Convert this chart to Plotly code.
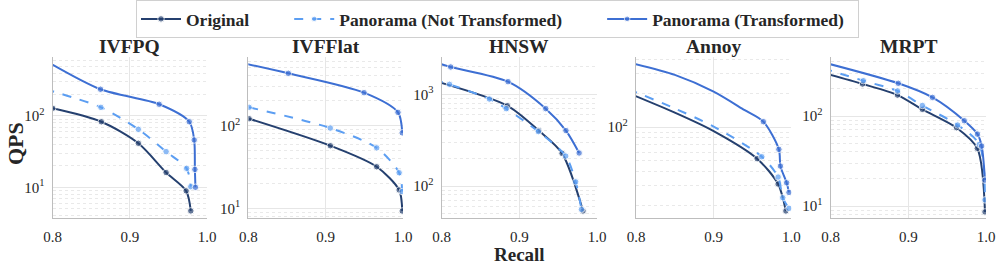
import plotly.graph_objects as go

# ---------------- data ----------------
METHODS = ["IVFPQ", "IVFFlat", "HNSW", "Annoy", "MRPT"]
SERIES = ["Original", "Panorama (Not Transformed)", "Panorama (Transformed)"]

# IVFPQ
IVFPQ_ORIG_X = [0.800, 0.863, 0.911, 0.947, 0.973, 0.979]
IVFPQ_ORIG_Y = [128, 83, 41.4, 16.1, 8.9, 4.66]
IVFPQ_ORIG_M = [1, 1, 1, 1, 1, 1]
IVFPQ_NT_X = [0.790, 0.8625, 0.911, 0.947, 0.9736, 0.979]
IVFPQ_NT_Y = [238, 132, 65, 31.6, 18.4, 10.2]
IVFPQ_NT_M = [0, 1, 1, 1, 1, 1]
IVFPQ_TR_X = [0.790, 0.862, 0.938, 0.977, 0.9834, 0.9843, 0.985]
IVFPQ_TR_Y = [603, 237, 146, 83, 46, 17.8, 10]
IVFPQ_TR_M = [0, 1, 1, 1, 1, 1, 1]

# IVFFlat
IVFFLAT_ORIG_X = [0.801, 0.906, 0.966, 0.995, 0.999]
IVFFLAT_ORIG_Y = [121.5, 57.3, 31.9, 16.7, 9.3]
IVFFLAT_ORIG_M = [1, 1, 1, 1, 1]
IVFFLAT_NT_X = [0.801, 0.906, 0.966, 0.995, 0.999]
IVFFLAT_NT_Y = [167, 93.7, 54, 27, 16]
IVFFLAT_NT_M = [1, 1, 1, 1, 1]
IVFFLAT_TR_X = [0.790, 0.8517, 0.9496, 0.9935, 0.999]
IVFFLAT_TR_Y = [580, 430, 251, 145, 82]
IVFFLAT_TR_M = [0, 1, 1, 1, 1]

# HNSW
HNSW_ORIG_X = [0.790, 0.8845, 0.925, 0.955, 0.982]
HNSW_ORIG_Y = [1410, 752, 402, 227, 53.4]
HNSW_ORIG_M = [0, 1, 1, 1, 1]
HNSW_NT_X = [0.790, 0.810, 0.8614, 0.883, 0.9245, 0.9597, 0.9725, 0.980]
HNSW_NT_Y = [1440, 1285, 889, 698, 392, 212, 111, 55.6]
HNSW_NT_M = [0, 1, 1, 1, 1, 1, 1, 1]
HNSW_TR_X = [0.790, 0.8116, 0.8854, 0.934, 0.960, 0.977]
HNSW_TR_Y = [2250, 1987, 1374, 698, 402, 229]
HNSW_TR_M = [0, 1, 1, 1, 1, 1]

# Annoy
ANNOY_ORIG_X = [0.790, 0.850, 0.900, 0.956, 0.983, 0.993]
ANNOY_ORIG_Y = [200, 134, 92, 52.4, 31.2, 18]
ANNOY_ORIG_M = [0, 0, 0, 1, 1, 1]
ANNOY_NT_X = [0.790, 0.850, 0.900, 0.962, 0.983, 0.989, 0.997]
ANNOY_NT_Y = [217, 146, 101, 54.5, 36, 23.6, 19]
ANNOY_NT_M = [0, 0, 0, 1, 1, 1, 1]
ANNOY_TR_X = [0.790, 0.850, 0.900, 0.940, 0.964, 0.984, 0.986, 0.994, 0.997]
ANNOY_TR_Y = [375, 290, 206, 141, 111.5, 63.4, 45, 32, 26.3]
ANNOY_TR_M = [0, 0, 0, 0, 1, 1, 1, 1, 1]

# MRPT
MRPT_ORIG_X = [0.790, 0.841, 0.886, 0.918, 0.962, 0.9888, 0.9987]
MRPT_ORIG_Y = [302, 227, 171, 118.6, 74.2, 43.7, 8.6]
MRPT_ORIG_M = [0, 1, 1, 1, 1, 1, 1]
MRPT_NT_X = [0.790, 0.842, 0.886, 0.918, 0.9635, 0.9914, 0.9987]
MRPT_NT_Y = [339, 247, 190, 131, 79.4, 48.4, 11.7]
MRPT_NT_M = [0, 1, 1, 1, 1, 1, 1]
MRPT_TR_X = [0.790, 0.887, 0.931, 0.972, 0.989, 0.9944, 0.9987]
MRPT_TR_Y = [396, 231, 161, 88.7, 63, 46.4, 19.4]
MRPT_TR_M = [0, 1, 1, 1, 1, 1, 1]

X_TICKS = [0.8, 0.9, 1.0]
X_TICK_TEXT = ["0.8", "0.9", "1.0"]
Y_TICKS = [[10, 100], [10, 100], [100, 1000], [100], [10, 100]]
Y_TICK_TEXT = [["10<sup>1</sup>", "10<sup>2</sup>"], ["10<sup>1</sup>", "10<sup>2</sup>"],
               ["10<sup>2</sup>", "10<sup>3</sup>"], ["10<sup>2</sup>"],
               ["10<sup>1</sup>", "10<sup>2</sup>"]]

# ---------------- styling ----------------
COLORS = ["#25406f", "#5c9ef2", "#3d6fd3"]
DASHES = ["solid", "dash", "solid"]
FONT = "Liberation Serif, Times New Roman, DejaVu Serif, serif"
LEGEND_PAD = ["\u2003\u2003", "\u2003\u2003", "\u2002"]

panel_data = [
    [(IVFPQ_ORIG_X, IVFPQ_ORIG_Y, IVFPQ_ORIG_M), (IVFPQ_NT_X, IVFPQ_NT_Y, IVFPQ_NT_M), (IVFPQ_TR_X, IVFPQ_TR_Y, IVFPQ_TR_M)],
    [(IVFFLAT_ORIG_X, IVFFLAT_ORIG_Y, IVFFLAT_ORIG_M), (IVFFLAT_NT_X, IVFFLAT_NT_Y, IVFFLAT_NT_M), (IVFFLAT_TR_X, IVFFLAT_TR_Y, IVFFLAT_TR_M)],
    [(HNSW_ORIG_X, HNSW_ORIG_Y, HNSW_ORIG_M), (HNSW_NT_X, HNSW_NT_Y, HNSW_NT_M), (HNSW_TR_X, HNSW_TR_Y, HNSW_TR_M)],
    [(ANNOY_ORIG_X, ANNOY_ORIG_Y, ANNOY_ORIG_M), (ANNOY_NT_X, ANNOY_NT_Y, ANNOY_NT_M), (ANNOY_TR_X, ANNOY_TR_Y, ANNOY_TR_M)],
    [(MRPT_ORIG_X, MRPT_ORIG_Y, MRPT_ORIG_M), (MRPT_NT_X, MRPT_NT_Y, MRPT_NT_M), (MRPT_TR_X, MRPT_TR_Y, MRPT_TR_M)],
]

W, H = 996, 264
X_DOMAINS_PX = [(52.7, 207), (248.3, 403), (441.7, 597), (636, 791.3), (830.7, 986)]
Y_TOP_PX, Y_BOT_PX = 57, 218
Y_RANGES = [(0.569, 2.827), (0.884, 2.831), (1.651, 3.407), (1.193, 2.621), (0.867, 2.656)]

fig = go.Figure()
layout = {}
for i, name in enumerate(METHODS):
    ax = "" if i == 0 else str(i + 1)
    for s, (xs, ys, ms) in enumerate(panel_data[i]):
        fig.add_trace(go.Scatter(
            x=xs, y=ys, mode="lines+markers", name="<b>%s</b>%s" % (SERIES[s], LEGEND_PAD[s]),
            legendgroup=SERIES[s], showlegend=(i == 0),
            line=dict(color=COLORS[s], width=2, dash=DASHES[s], shape="spline", smoothing=0.8),
            marker=dict(color=COLORS[s], size=[6.5 if m else 0 for m in ms]),
            xaxis="x" + ax, yaxis="y" + ax,
        ))
    x0, x1 = X_DOMAINS_PX[i]
    layout["xaxis" + ax] = dict(
        domain=[x0 / W, x1 / W], anchor="y" + ax, range=[0.8, 1.0], automargin=False,
        tickvals=X_TICKS, ticktext=X_TICK_TEXT, showgrid=True, gridcolor="#e6e6e6", gridwidth=1,
        showline=True, linecolor="#bdbdbd", linewidth=1.3, zeroline=False, ticks="",
        tickfont=dict(family=FONT, size=15, color="#262626"), ticklabelstandoff=5,
    )
    layout["yaxis" + ax] = dict(
        domain=[1 - Y_BOT_PX / H, 1 - Y_TOP_PX / H], anchor="x" + ax, type="log", automargin=False,
        range=list(Y_RANGES[i]), tickvals=Y_TICKS[i], ticktext=Y_TICK_TEXT[i],
        showgrid=True, gridcolor="#e6e6e6", gridwidth=1,
        minor=dict(dtick="D1", showgrid=True, gridcolor="#e9e9e9", griddash="dot", ticks=""),
        showline=True, linecolor="#bdbdbd", linewidth=1.3, zeroline=False, ticks="",
        tickfont=dict(family=FONT, size=15, color="#262626"), ticklabelstandoff=4,
    )
    fig.add_annotation(
        text="<b>%s</b>" % name, x=(x0 + x1) / 2 / W, y=1 - 46 / H, xref="paper", yref="paper",
        showarrow=False, font=dict(family=FONT, size=19.5, color="#262626"), xanchor="center", yanchor="middle",
    )

fig.add_annotation(text="<b>QPS</b>", x=15 / W, y=1 - 144 / H, xref="paper", yref="paper",
                   showarrow=False, textangle=-90, font=dict(family=FONT, size=22, color="#262626"),
                   xanchor="center", yanchor="middle")
fig.add_annotation(text="<b>Recall</b>", x=519 / W, y=1 - 254 / H, xref="paper", yref="paper",
                   showarrow=False, font=dict(family=FONT, size=19, color="#262626"),
                   xanchor="center", yanchor="middle")

fig.update_layout(
    width=W, height=H, margin=dict(l=0, r=0, t=0, b=0, autoexpand=False),
    paper_bgcolor="white", plot_bgcolor="white",
    legend=dict(orientation="h", x=497.5 / W, xanchor="center", y=1.0, yanchor="top",
                bordercolor="#d0d0d0", borderwidth=1, bgcolor="white",
                font=dict(family=FONT, size=17.5, color="#262626"), itemwidth=40),
    **layout,
)

fig.write_html("out.html", config={"displayModeBar": False},
               post_script="document.body.style.margin='0px';document.body.style.overflow='hidden';")
